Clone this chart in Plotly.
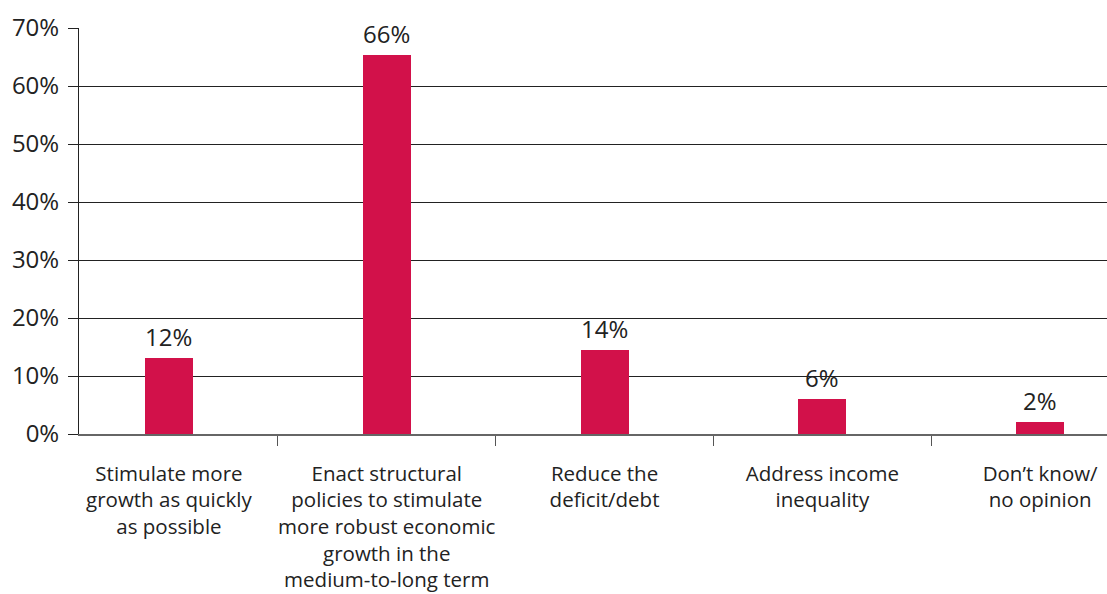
import plotly.graph_objects as go

categories = [
    "Stimulate more<br>growth as quickly<br>as possible",
    "Enact structural<br>policies to stimulate<br>more robust economic<br>growth in the<br>medium-to-long term",
    "Reduce the<br>deficit/debt",
    "Address income<br>inequality",
    "Don’t know/<br>no opinion",
]
values = [13.1, 65.3, 14.5, 6.0, 2.1]
labels = ["12%", "66%", "14%", "6%", "2%"]
y_ticks = [0, 10, 20, 30, 40, 50, 60, 70]
y_tick_text = [f"{v}%" for v in y_ticks]

FONT = "Open Sans"
TXT = "#222222"

fig = go.Figure(
    go.Bar(
        x=categories,
        y=values,
        marker=dict(color="#D2114A", line=dict(width=0)),
        width=0.22,
        hoverinfo="skip",
    )
)

for c, v, t in zip(categories, values, labels):
    fig.add_annotation(
        x=c, y=v, text=t, showarrow=False,
        yanchor="bottom", yshift=3,
        font=dict(family=FONT, size=24, color=TXT),
    )

fig.update_layout(
    width=1107,
    height=594,
    margin=dict(l=79, r=0, t=28, b=160, autoexpand=False),
    paper_bgcolor="white",
    plot_bgcolor="white",
    font=dict(family=FONT, size=20.5, color=TXT),
    showlegend=False,
    bargap=0,
)

fig.update_xaxes(
    range=[-0.413, 4.307],
    tickson="boundaries",
    ticks="outside",
    ticklen=10,
    tickcolor="#555555",
    showline=True,
    linecolor="#666666",
    linewidth=2,
    showgrid=False,
    tickfont=dict(family=FONT, size=20.5, color=TXT),
    tickangle=0,
    automargin=False,
    ticklabelstandoff=20,
)

fig.update_yaxes(
    range=[0, 70],
    tickvals=y_ticks,
    ticktext=y_tick_text,
    ticks="outside",
    ticklen=10,
    tickcolor="#222222",
    showline=True,
    linecolor="#222222",
    linewidth=1,
    showgrid=True,
    gridcolor="#222222",
    gridwidth=1,
    zeroline=False,
    tickfont=dict(family=FONT, size=24, color=TXT),
    automargin=False,
    ticklabelstandoff=4,
)

fig.write_html(
    "out.html",
    config={"displayModeBar": False},
    post_script="document.body.style.margin='0';document.body.style.overflow='hidden';",
)
